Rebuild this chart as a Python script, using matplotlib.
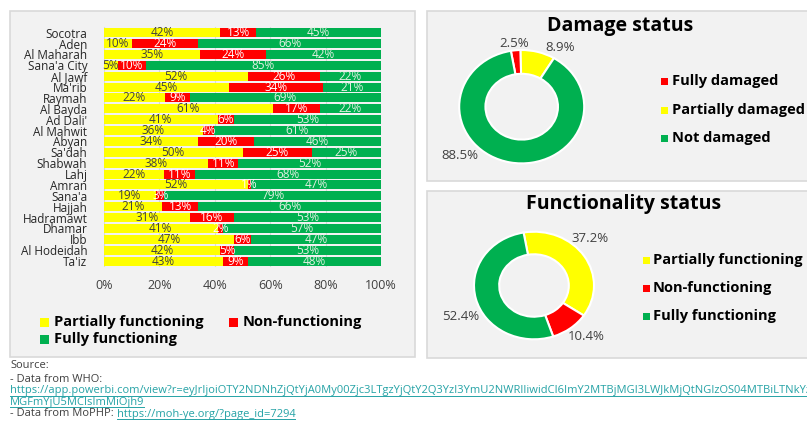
import numpy as np
import matplotlib
matplotlib.use("Agg")
from matplotlib import pyplot as plt
from matplotlib.patches import Rectangle

plt.rcParams['font.family'] = ['Open Sans', 'DejaVu Sans']

# data
governorates = ["Socotra", "Aden", "Al Maharah", "Sana'a City", "Al Jawf", "Ma'rib",
                "Raymah", "Al Bayda", "Ad Dali'", "Al Mahwit", "Abyan", "Sa'dah",
                "Shabwah", "Lahj", "Amran", "Sana'a", "Hajjah", "Hadramawt", "Dhamar",
                "Ibb", "Al Hodeidah", "Ta'iz"]
partially = [42, 10, 35, 5, 52, 45, 22, 61, 41, 36, 34, 50, 38, 22, 52, 19, 21, 31, 41, 47, 42, 43]
nonfunc = [13, 24, 24, 10, 26, 34, 9, 17, 6, 4, 20, 25, 11, 11, 1, 3, 13, 16, 2, 6, 5, 9]
fully = [45, 66, 42, 85, 22, 21, 69, 22, 53, 61, 46, 25, 52, 68, 47, 79, 66, 53, 57, 47, 53, 48]
bar_series = ["Partially functioning", "Non-functioning", "Fully functioning"]

damage_labels = ["Fully damaged", "Partially damaged", "Not damaged"]
damage_values = [2.5, 8.9, 88.5]
func_labels = ["Partially functioning", "Non-functioning", "Fully functioning"]
func_values = [37.2, 10.4, 52.4]

YEL, RED, GRN = "#ffff00", "#ff0000", "#00b050"
PANEL, EDGE, TXT = "#f2f2f2", "#d9d9d9", "#404040"

W, H = 807, 421
fig = plt.figure(figsize=(W / 100, H / 100), dpi=100)
fig.patch.set_facecolor("white")


def box(x0, y0, x1, y1):
    return [x0 / W, 1 - y1 / H, (x1 - x0) / W, (y1 - y0) / H]


def panel(x0, y0, x1, y1):
    b = box(x0, y0, x1, y1)
    fig.add_artist(Rectangle((b[0], b[1]), b[2], b[3], transform=fig.transFigure,
                             facecolor=PANEL, edgecolor=EDGE, linewidth=1.2, zorder=0))


def ftext(x, y, s, **kw):
    return fig.text(x / W, 1 - y / H, s, **kw)


panel(10, 11, 415, 357)
panel(427, 11, 812, 181)
panel(427, 191, 812, 358)

# stacked 100% bar chart
ax = fig.add_axes(box(104, 27.3, 381, 266.5))
ax.patch.set_alpha(0)
P = np.array(partially, float)
N = np.array(nonfunc, float)
F = np.array(fully, float)
tot = P + N + F
y = np.arange(len(governorates))
segs = [(P / tot * 100, partially, YEL, "#404040"),
        (N / tot * 100, nonfunc, RED, "white"),
        (F / tot * 100, fully, GRN, "#e2f0e2")]
left = np.zeros(len(y))
for (w, vals, col, tcol), name in zip(segs, bar_series):
    ax.barh(y, w, left=left, height=0.83, color=col, label=name, zorder=2)
    for yi, li, wi, v in zip(y, left, w, vals):
        ax.text(li + wi / 2, yi, f"{v}%", ha="center", va="center", fontsize=8.5,
                color=tcol, zorder=3)
    left = left + w
ax.set_xlim(0, 100)
ax.set_ylim(len(y) - 0.5, -0.5)
ax.set_yticks(y)
ax.set_yticklabels(governorates, fontsize=8.5, color="#262626")
ax.set_xticks(np.arange(0, 101, 20))
ax.set_xticklabels([f"{t}%" for t in range(0, 101, 20)], fontsize=9, color=TXT)
ax.tick_params(axis="x", length=0, pad=9)
ax.tick_params(axis="y", length=0, pad=12)
ax.grid(axis="x", color="#d9d9d9", linewidth=0.8, zorder=0)
for s in ax.spines.values():
    s.set_visible(False)

# bar legend
for (lx, ly), name, col in zip([(40, 322), (229, 322), (40, 339)], bar_series, [YEL, RED, GRN]):
    fig.add_artist(Rectangle(((lx) / W, 1 - (ly + 4.5) / H), 9 / W, 9 / H,
                             transform=fig.transFigure, facecolor=col, edgecolor="none"))
    ftext(lx + 14, ly, name, fontsize=10.5, fontweight="bold", color="black", va="center")


def donut(rect, values, colors, start, label_pos):
    a = fig.add_axes(rect)
    a.pie(values, colors=colors, startangle=start, counterclock=False,
          wedgeprops=dict(width=0.42, edgecolor="white", linewidth=1.5))
    a.set_aspect("auto")
    a.set_xlim(-1, 1)
    a.set_ylim(-1, 1)
    a.axis("off")
    for v, (px, py) in zip(values, label_pos):
        a.text(px, py, f"{v}%", ha="center", va="center", fontsize=9.5, color=TXT,
               clip_on=False)
    return a


donut(box(459.2, 50, 584.2, 163.4), damage_values, [RED, YEL, GRN], 100,
      [(-0.12, 1.12), (0.62, 1.04), (-0.99, -0.86)])
ftext(620, 26, "Damage status", fontsize=14, fontweight="bold", ha="center", va="center")
for ly, name, col in zip([81, 110, 138], damage_labels, [RED, YEL, GRN]):
    fig.add_artist(Rectangle((661 / W, 1 - (ly + 3.5) / H), 7 / W, 7 / H,
                             transform=fig.transFigure, facecolor=col, edgecolor="none"))
    ftext(672, ly, name, fontsize=10.5, fontweight="bold", va="center")

donut(box(474, 231.7, 594, 339.3), func_values, [YEL, RED, GRN], 100,
      [(0.93, 0.88), (0.87, -0.94), (-1.23, -0.57)])
ftext(624, 204, "Functionality status", fontsize=14, fontweight="bold", ha="center",
      va="center")
for ly, name, col in zip([260, 288, 316], func_labels, [YEL, RED, GRN]):
    fig.add_artist(Rectangle((643 / W, 1 - (ly + 3.5) / H), 7 / W, 7 / H,
                             transform=fig.transFigure, facecolor=col, edgecolor="none"))
    ftext(653, ly, name, fontsize=10.5, fontweight="bold", va="center")

# source notes
LINK = "#26a3a6"
FS = 8
ftext(10, 366, "Source:", fontsize=FS, color=TXT, va="center")
ftext(10, 379, "- Data from WHO:", fontsize=FS, color=TXT, va="center")
links = [ftext(10, 391, "https://app.powerbi.com/view?r=eyJrIjoiOTY2NDNhZjQtYjA0My00Zjc3LTgzYjQtY2Q3YzI3YmU2NWRlIiwidCI6ImY2MTBjMGI3LWJkMjQtNGIzOS04MTBiLTNkYzI",
               fontsize=FS, color=LINK, va="center"),
         ftext(10, 402, "MGFmYjU5MCIsImMiOjh9", fontsize=FS, color=LINK, va="center")]
t = ftext(10, 414, "- Data from MoPHP: ", fontsize=FS, color=TXT, va="center")
fig.canvas.draw()
bb = t.get_window_extent()
links.append(ftext(bb.x1, 414, "https://moh-ye.org/?page_id=7294", fontsize=FS,
                   color=LINK, va="center"))
fig.canvas.draw()
for l in links:
    e = l.get_window_extent()
    x1 = min(e.x1, W)
    fig.add_artist(plt.Line2D([e.x0 / W, x1 / W], [(e.y0 + 1) / H, (e.y0 + 1) / H],
                              transform=fig.transFigure, color=LINK, linewidth=0.7))

fig.savefig("out.png", dpi=100)
